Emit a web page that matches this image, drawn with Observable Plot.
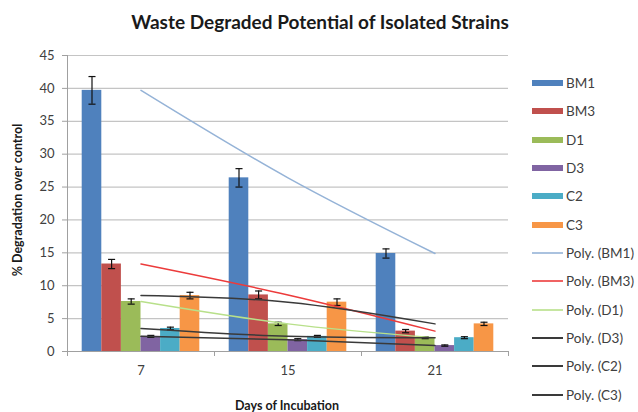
<!DOCTYPE html>
<html><head><meta charset="utf-8">
<script src="https://cdn.jsdelivr.net/npm/d3@7"></script>
<script src="https://cdn.jsdelivr.net/npm/@observablehq/plot@0.6"></script>
<style>
body{margin:0;background:#fff;}
#wrap{position:relative;width:638px;height:412px;font-family:Lato,"Open Sans",sans-serif;overflow:hidden;}
#chart{position:absolute;left:0;top:0;}
#title{position:absolute;left:0;width:640px;top:10px;text-align:center;font-weight:bold;font-size:19px;color:#1a1a1a;}
#ylab{position:absolute;left:17px;top:200px;transform:translate(-50%,-50%) rotate(-90deg);white-space:nowrap;font-weight:bold;font-size:12.5px;color:#1a1a1a;}
#xlab{position:absolute;left:287px;top:405px;transform:translate(-50%,-50%);white-space:nowrap;font-weight:bold;font-size:12.5px;color:#1a1a1a;}
#legend{position:absolute;left:532px;top:69px;font-size:13.5px;color:#404040;}
.item{height:28.33px;display:flex;align-items:center;}
.sw{margin-right:3px;display:block;}
</style>
</head><body>
<div id="wrap">
<div id="chart"></div>
<div id="title">Waste Degraded Potential of Isolated Strains</div>
<div id="ylab">% Degradation over control</div>
<div id="xlab">Days of Incubation</div>
<div id="legend"></div>
</div>
<script>
const days = ["7", "15", "21"];
const strains = ["BM1", "BM3", "D1", "D3", "C2", "C3"];
const barColors = ["#4f81bd", "#c0504d", "#9bbb59", "#8064a2", "#4bacc6", "#f79646"];
const trendColors = ["#95b3d7", "#ec3b3b", "#b8e08a", "#3a3a3a", "#3a3a3a", "#3a3a3a"];

const BM1 = [39.7, 26.4, 14.9];
const BM3 = [13.3, 8.6, 3.1];
const D1 = [7.6, 4.2, 2.1];
const D3 = [2.3, 1.8, 0.9];
const C2 = [3.5, 2.3, 2.1];
const C3 = [8.5, 7.5, 4.2];

const errBM1 = [2.1, 1.4, 0.7];
const errBM3 = [0.7, 0.6, 0.25];
const errD1 = [0.4, 0.25, 0.15];
const errD3 = [0.15, 0.15, 0.1];
const errC2 = [0.2, 0.15, 0.15];
const errC3 = [0.5, 0.5, 0.25];

const yTicks = [0, 5, 10, 15, 20, 25, 30, 35, 40, 45];

const values = [BM1, BM3, D1, D3, C2, C3];
const errors = [errBM1, errBM3, errD1, errD3, errC2, errC3];

const groupWidth = 0.8;
const bw = groupWidth / strains.length;
const rows = [];
strains.forEach((s, si) => {
  days.forEach((d, di) => {
    const x1 = di - groupWidth / 2 + si * bw;
    rows.push({strain: s, si, day: d, di, value: values[si][di], err: errors[si][di], x1, x2: x1 + bw, xc: x1 + bw / 2});
  });
});
const trendRows = [];
strains.forEach((s, si) => days.forEach((d, di) => trendRows.push({strain: s, di, value: values[si][di]})));

const capW = 0.024;
const marks = [
  Plot.gridY(yTicks, {stroke: "#c4c4c4", strokeOpacity: 1, strokeWidth: 1.2}),
  Plot.axisY(yTicks, {tickSize: 5, tickPadding: 8, stroke: "#a0a0a0", label: null, fill: "#404040"}),
  Plot.ruleX([-0.5], {stroke: "#a0a0a0"}),
  Plot.ruleY([0], {stroke: "#a0a0a0"}),
  Plot.axisX(days.map((d, i) => i), {tickSize: 0, tickPadding: 14, tickFormat: i => days[i], label: null, fill: "#404040"}),
  Plot.axisX([-0.5, 0.5, 1.5, 2.5], {tickSize: 5, tickFormat: () => "", stroke: "#a0a0a0", label: null}),
  Plot.rect(rows, {x1: "x1", x2: "x2", y1: 0, y2: "value", fill: "strain"}),
  Plot.ruleX(rows, {x: "xc", y1: d => d.value - d.err, y2: d => d.value + d.err, stroke: "#111", strokeWidth: 1.2}),
  Plot.link(rows, {x1: d => d.xc - capW, x2: d => d.xc + capW, y1: d => d.value + d.err, y2: d => d.value + d.err, stroke: "#111", strokeWidth: 1.2}),
  Plot.link(rows, {x1: d => d.xc - capW, x2: d => d.xc + capW, y1: d => d.value - d.err, y2: d => d.value - d.err, stroke: "#111", strokeWidth: 1.2})
];
strains.forEach((s, si) => {
  marks.push(Plot.line(trendRows.filter(r => r.strain === s), {x: "di", y: "value", stroke: trendColors[si], strokeWidth: 1.5, curve: "natural"}));
});

const chart = Plot.plot({
  width: 638,
  height: 412,
  marginLeft: 67,
  marginRight: 130,
  marginTop: 55,
  marginBottom: 61,
  style: {fontFamily: "Lato, 'Open Sans', sans-serif", fontSize: "13px", background: "#fff", color: "#404040"},
  x: {domain: [-0.5, 2.5], axis: null},
  y: {domain: [0, 45], axis: null},
  color: {domain: strains, range: barColors},
  marks
});
document.getElementById("chart").appendChild(chart);

const legend = document.getElementById("legend");
strains.forEach((s, i) => {
  const it = document.createElement("div"); it.className = "item";
  it.innerHTML = `<svg class="sw" width="31" height="6"><rect x="0" y="0" width="31" height="6" fill="${barColors[i]}"/></svg><span>${s}</span>`;
  legend.appendChild(it);
});
strains.forEach((s, i) => {
  const it = document.createElement("div"); it.className = "item";
  it.innerHTML = `<svg class="sw" width="31" height="6"><line x1="0" x2="31" y1="3" y2="3" stroke="${trendColors[i]}" stroke-width="${i >= 3 ? 2 : 1.6}"/></svg><span>Poly. (${s})</span>`;
  legend.appendChild(it);
});
</script>
</body></html>
